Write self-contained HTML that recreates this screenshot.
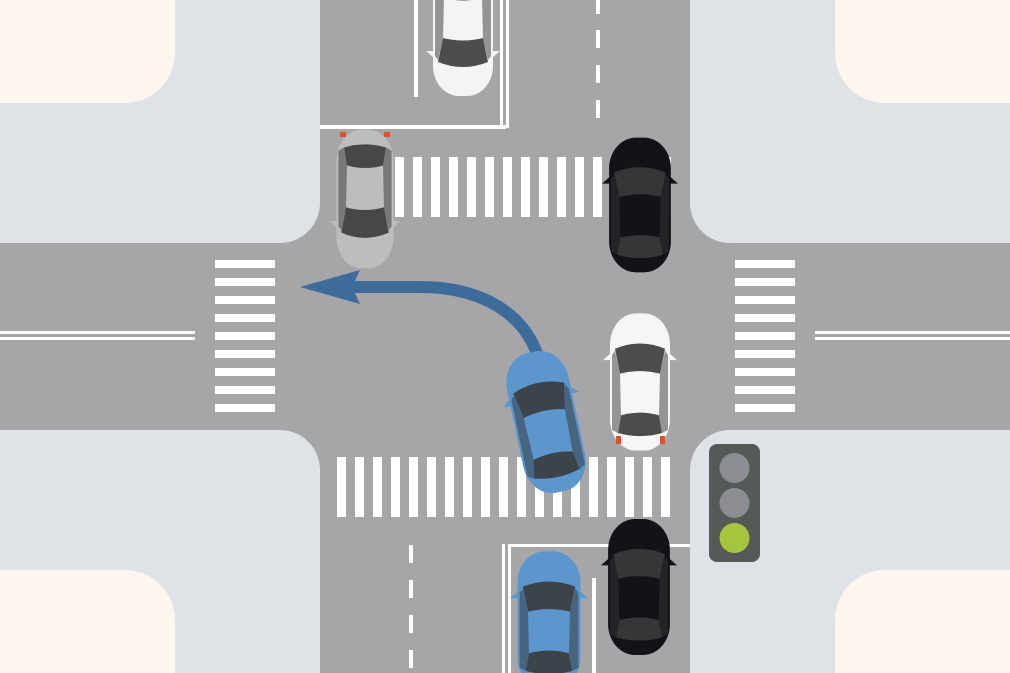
<!DOCTYPE html>
<html><head><style>body{margin:0}svg{display:block}</style></head><body>
<svg width="1010" height="673" viewBox="0 0 1010 673" xmlns="http://www.w3.org/2000/svg">
<defs>
<g id="car">
<rect x="-30" y="-66" width="60" height="132" rx="26" ry="30"/>
<path d="M-25,-32 Q0,-42 25,-32 L20,-8 Q0,-13 -20,-8 Z" fill="#3a3a3c" opacity="0.9"/>
<path d="M-19,32 Q0,27 19,32 L22,49 Q0,55 -22,49 Z" fill="#3a3a3c" opacity="0.9"/>
<path d="M-28,-26 L-25,-30 L-20,-8 L-19,32 L-22,49 L-28,46 Z" fill="#333" opacity="0.5"/>
<path d="M28,-26 L25,-30 L20,-8 L19,32 L22,49 L28,46 Z" fill="#333" opacity="0.5"/>
<path d="M-29,-28 L-37,-21 L-28,-21 Z M29,-28 L37,-21 L28,-21 Z" />
</g>
</defs>
<rect width="1010" height="673" fill="#dfe2e6"/>
<path d="M0,0H175V53A50,50 0 0 1 125,103H0Z" fill="#fcf6ef"/>
<path d="M1010,0H835V53A50,50 0 0 0 885,103H1010Z" fill="#fcf6ef"/>
<path d="M0,673H175V620A50,50 0 0 0 125,570H0Z" fill="#fcf6ef"/>
<path d="M1010,673H835V620A50,50 0 0 1 885,570H1010Z" fill="#fcf6ef"/>
<path d="M320,0H690V203A40,40 0 0 0 730,243H1010V430H730A40,40 0 0 0 690,470V673H320V470A40,40 0 0 0 280,430H0V243H280A40,40 0 0 0 320,203Z" fill="#a6a6a9"/>
<g fill="#fff">
<rect x="414" y="0" width="4" height="97"/>
<rect x="500" y="0" width="3" height="128"/>
<rect x="506" y="0" width="3" height="128"/>
<rect x="320" y="125" width="186" height="4"/>
<rect x="596" y="0" width="4" height="14"/><rect x="596" y="30" width="4" height="18"/><rect x="596" y="65" width="4" height="18"/><rect x="596" y="100" width="4" height="18"/>
<rect x="502" y="544" width="3" height="129"/>
<rect x="508" y="544" width="182" height="3"/>
<rect x="508" y="544" width="3" height="129"/>
<rect x="409" y="545" width="4" height="18"/><rect x="409" y="580" width="4" height="18"/><rect x="409" y="615" width="4" height="18"/><rect x="409" y="650" width="4" height="18"/>
<rect x="592" y="578" width="4" height="95"/>
<rect x="0" y="331" width="195" height="3"/><rect x="0" y="337" width="195" height="3"/>
<rect x="815" y="331" width="195" height="3"/><rect x="815" y="337" width="195" height="3"/>
</g>
<g fill="#fff">
<rect x="395" y="157" width="9" height="60"/><rect x="413" y="157" width="9" height="60"/><rect x="431" y="157" width="9" height="60"/><rect x="449" y="157" width="9" height="60"/><rect x="467" y="157" width="9" height="60"/><rect x="485" y="157" width="9" height="60"/><rect x="503" y="157" width="9" height="60"/><rect x="521" y="157" width="9" height="60"/><rect x="539" y="157" width="9" height="60"/><rect x="557" y="157" width="9" height="60"/><rect x="575" y="157" width="9" height="60"/><rect x="593" y="157" width="9" height="60"/><rect x="611" y="157" width="9" height="60"/><rect x="629" y="157" width="9" height="60"/><rect x="647" y="157" width="9" height="60"/><rect x="663" y="157" width="8" height="60"/>
<rect x="337" y="457" width="9" height="60"/><rect x="355" y="457" width="9" height="60"/><rect x="373" y="457" width="9" height="60"/><rect x="391" y="457" width="9" height="60"/><rect x="409" y="457" width="9" height="60"/><rect x="427" y="457" width="9" height="60"/><rect x="445" y="457" width="9" height="60"/><rect x="463" y="457" width="9" height="60"/><rect x="481" y="457" width="9" height="60"/><rect x="499" y="457" width="9" height="60"/><rect x="517" y="457" width="9" height="60"/><rect x="535" y="457" width="9" height="60"/><rect x="553" y="457" width="9" height="60"/><rect x="571" y="457" width="9" height="60"/><rect x="589" y="457" width="9" height="60"/><rect x="607" y="457" width="9" height="60"/><rect x="625" y="457" width="9" height="60"/><rect x="643" y="457" width="9" height="60"/><rect x="661" y="457" width="9" height="60"/>
<g id="hc">
<rect x="215" y="260" width="60" height="8"/><rect x="215" y="278" width="60" height="8"/><rect x="215" y="296" width="60" height="8"/><rect x="215" y="314" width="60" height="8"/><rect x="215" y="332" width="60" height="8"/><rect x="215" y="350" width="60" height="8"/><rect x="215" y="368" width="60" height="8"/><rect x="215" y="386" width="60" height="8"/><rect x="215" y="404" width="60" height="8"/>
</g>
<use href="#hc" x="520"/>
</g>
<path d="M538,356 C520,305 470,287 420,287 L345,287" fill="none" stroke="#3d6b9a" stroke-width="12"/>
<path d="M300,287 L360,270 L352,287 L360,304 Z" fill="#3d6b9a"/>
<use href="#car" transform="translate(463,30) rotate(180)" fill="#f4f4f4"/>
<use href="#car" transform="translate(365,199) rotate(180) scale(0.95,1.05)" fill="#bdbdbf"/>
<rect x="340" y="132" width="6" height="5" fill="#e2502a"/><rect x="384" y="132" width="6" height="5" fill="#e2502a"/>
<use href="#car" transform="translate(640,205) scale(1.03,1.02)" fill="#141216"/>
<use href="#car" transform="translate(640,382) scale(1,1.04)" fill="#f6f6f6"/>
<rect x="616" y="436" width="5" height="8" fill="#e2502a"/><rect x="660" y="436" width="5" height="8" fill="#e2502a"/>
<use href="#car" transform="translate(546,422) rotate(-12) scale(1.05,1.08)" fill="#5d96cc"/>
<use href="#car" transform="translate(639,587) scale(1.03,1.03)" fill="#141216"/>
<use href="#car" transform="translate(549,620) scale(1.05,1.04)" fill="#5d96cc"/>
<rect x="709" y="444" width="51" height="118" rx="8" fill="#555a57"/>
<circle cx="734.5" cy="468" r="15" fill="#8b8d92"/>
<circle cx="734.5" cy="503" r="15" fill="#8b8d92"/>
<circle cx="734.5" cy="538" r="15" fill="#a6c43e"/>
</svg>
</body></html>
